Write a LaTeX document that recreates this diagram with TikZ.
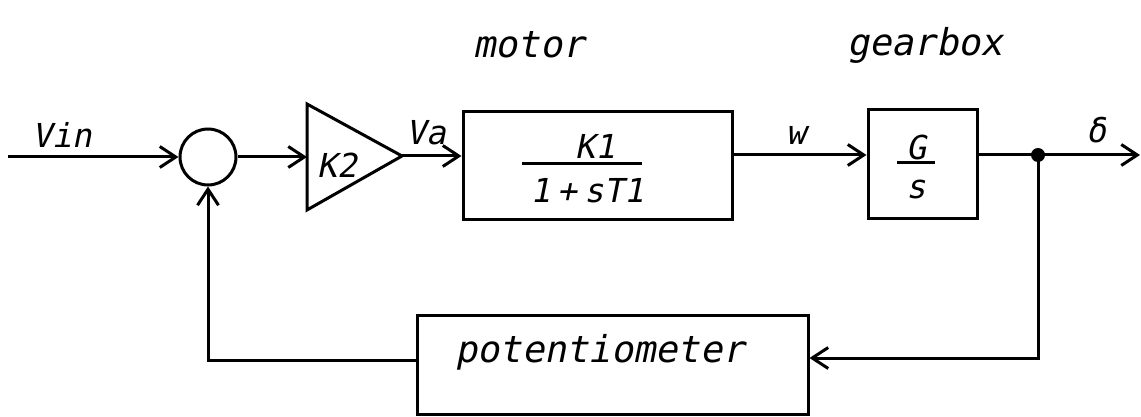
\documentclass[tikz,border=0pt]{standalone}
\usepackage{fontspec}
\newfontfamily\lab[FakeSlant=0.2]{DejaVu Sans Mono}
\usetikzlibrary{arrows.meta}
\tikzset{
  wire/.style={line width=3pt, -{Straight Barb[length=16pt,width=21pt,line width=3pt]}},
  plain/.style={line width=3pt},
  blk/.style={draw, line width=3pt, inner sep=0pt},
  symlab/.style={font=\lab\fontsize{33}{36}\selectfont, inner sep=0pt},
  wordlab/.style={font=\lab\fontsize{37}{40}\selectfont, inner sep=0pt},
}
\begin{document}
\begin{tikzpicture}[x=1pt,y=-1pt]
\useasboundingbox (0,0) rectangle (1141,417);
% blocks
\node[blk, circle, minimum size=56pt] (sum) at (208,157) {};
\coordinate (tl) at (307,104);
\coordinate (tb) at (307,210);
\coordinate (tip) at (402,156);
\coordinate (tin) at (307,157);
\draw[plain, line join=miter] (tl) -- (tip) -- (tb) -- cycle;
\node[blk, minimum width=269pt, minimum height=107pt] (motor) at (597.5,165.5) {};
\node[blk, minimum width=109pt, minimum height=108pt] (gear) at (922.5,164) {};
\node[blk, minimum width=391pt, minimum height=99pt] (pot) at (612.5,364.5) {};
% coordinates
\coordinate (vin) at (8,157);
\coordinate (mi) at (motor.west |- 0,156);
\coordinate (mo) at (motor.east |- 0,155);
\coordinate (gi) at (gear.west |- 0,155);
\coordinate (go) at (gear.east |- 0,155);
\coordinate (out) at (1140,155);
\coordinate (pi) at (pot.east |- 0,358);
\coordinate (po) at (pot.west |- 0,360);
\coordinate (fl) at (208,360);
\coordinate (fr) at (1038,358);
\node[circle, fill, inner sep=0pt, minimum size=14pt] (dot) at (1038,155) {};
% connectors
\draw[wire] (vin) -- (sum.west);
\draw[wire] (sum.east) -- (tin);
\draw[wire] (tip) -- (mi);
\draw[wire] (mo) -- (gi);
\draw[wire] (go) -- (out);
\draw[wire] (dot.center) -- (fr) -- (pi);
\draw[wire] (po) -- (fl) -- (sum.south);
% fractions
\node[symlab] (k1) at (595,146) {K1};
\draw[plain] (522,164) -- (642,164);
\node[symlab] (den) at (587,191) {1\kern7pt+\kern7pt sT1};
\node[symlab] (g) at (916,147) {G};
\draw[plain] (897,163) -- (935,163);
\node[symlab] (s) at (916,189) {s};
% labels
\node[symlab] (vinl) at (62,135) {Vin};
\node[symlab] (k2) at (337,165) {K2};
\node[symlab] (va) at (426,133) {Va};
\node[symlab] (w) at (796,135) {w};
\node[symlab] (del) at (1096,130) {δ};
\node[wordlab] (motl) at (529,45) {motor};
\node[wordlab] (gbl) at (925,45) {gearbox};
\node[wordlab] (potl) at (600,352) {potentiometer};
\end{tikzpicture}
\end{document}
